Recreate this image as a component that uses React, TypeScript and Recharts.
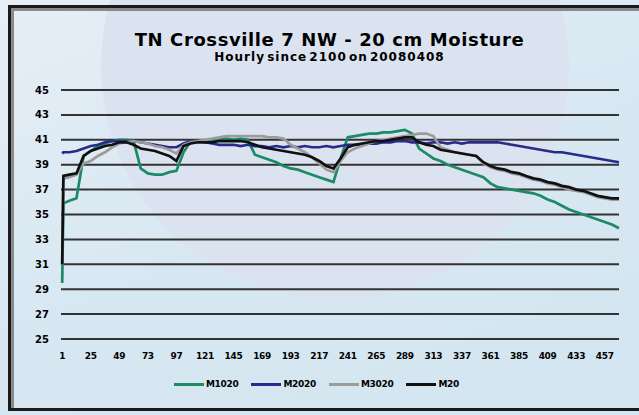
import React from "react";
import {
  LineChart,
  Line,
  XAxis,
  YAxis,
  CartesianGrid,
  Legend,
} from "recharts";

// hours since start (sampled every 6 h, plus hour 2 for the first jump)
const hours = [
  1, 2, 7, 13, 19, 25, 31, 37, 43, 49, 55, 61, 67, 73, 79, 85, 91, 97, 103,
  109, 115, 121, 127, 133, 139, 145, 151, 157, 163, 169, 175, 181, 187, 193,
  199, 205, 211, 217, 223, 229, 235, 241, 247, 253, 259, 265, 271, 277, 283,
  289, 295, 301, 307, 313, 319, 325, 331, 337, 343, 349, 355, 361, 367, 373,
  379, 385, 391, 397, 403, 409, 415, 421, 427, 433, 439, 445, 451, 457, 463,
  469,
];

const m1020 = [
  29.5, 35.9, 36.1, 36.3, 39.7, 40.1, 40.5, 40.7, 40.9, 41.0, 41.0, 40.9,
  38.7, 38.3, 38.2, 38.2, 38.4, 38.5, 40.0, 40.9, 40.9, 40.9, 41.0, 41.1,
  41.1, 41.0, 41.1, 41.0, 39.8, 39.6, 39.4, 39.2, 38.9, 38.7, 38.6, 38.4,
  38.2, 38.0, 37.8, 37.6, 39.5, 41.2, 41.3, 41.4, 41.5, 41.5, 41.6, 41.6,
  41.7, 41.8, 41.5, 40.3, 39.9, 39.5, 39.3, 39.0, 38.8, 38.6, 38.4, 38.2,
  38.0, 37.5, 37.2, 37.1, 37.0, 36.9, 36.8, 36.7, 36.5, 36.2, 36.0, 35.7,
  35.4, 35.2, 35.0, 34.8, 34.6, 34.4, 34.2, 33.9,
];

const m2020 = [
  39.9, 40.0, 40.0, 40.1, 40.3, 40.5, 40.6, 40.8, 40.9, 40.9, 40.9, 40.9,
  40.8, 40.7, 40.6, 40.5, 40.4, 40.4, 40.7, 40.9, 40.9, 40.8, 40.7, 40.6,
  40.6, 40.6, 40.5, 40.6, 40.5, 40.5, 40.4, 40.5, 40.4, 40.5, 40.4, 40.5,
  40.4, 40.4, 40.5, 40.4, 40.5, 40.6, 40.6, 40.6, 40.7, 40.7, 40.8, 40.8,
  40.9, 40.9, 40.8, 40.8, 40.7, 40.8, 40.8, 40.7, 40.8, 40.7, 40.8, 40.8,
  40.8, 40.8, 40.8, 40.7, 40.6, 40.5, 40.4, 40.3, 40.2, 40.1, 40.0, 40.0,
  39.9, 39.8, 39.7, 39.6, 39.5, 39.4, 39.3, 39.2,
];

const m3020 = [
  31.0, 37.9, 38.0, 38.2, 39.1, 39.3, 39.7, 40.0, 40.4, 40.7, 40.8, 40.9,
  40.8, 40.7, 40.5, 40.4, 40.2, 39.9, 40.6, 40.8, 40.9, 41.0, 41.1, 41.2,
  41.3, 41.3, 41.3, 41.3, 41.3, 41.3, 41.2, 41.2, 41.1, 40.6, 40.3, 40.0,
  39.6, 39.1, 38.6, 38.4, 39.3, 40.0, 40.3, 40.5, 40.7, 40.9, 41.0, 41.1,
  41.2, 41.3, 41.4, 41.5, 41.5, 41.3, 40.4, 40.2, 40.0, 39.9, 39.8, 39.7,
  39.1, 38.8, 38.6, 38.5, 38.3, 38.2, 38.0, 37.8, 37.7, 37.5, 37.4, 37.2,
  37.0, 36.9, 36.8, 36.6, 36.4, 36.3, 36.2, 36.2,
];

const m20 = [
  31.0, 38.1, 38.2, 38.3, 39.7, 40.1, 40.3, 40.5, 40.6, 40.8, 40.8, 40.6,
  40.3, 40.2, 40.1, 39.9, 39.7, 39.3, 40.5, 40.7, 40.8, 40.8, 40.8, 40.9,
  40.9, 40.9, 40.9, 40.8, 40.6, 40.4, 40.3, 40.2, 40.1, 40.0, 39.9, 39.8,
  39.6, 39.3, 38.9, 38.7, 39.5, 40.4, 40.6, 40.7, 40.8, 40.9, 40.9, 41.0,
  41.1, 41.2, 41.2, 40.8, 40.6, 40.5, 40.2, 40.1, 40.0, 39.9, 39.8, 39.7,
  39.2, 38.9, 38.7, 38.6, 38.4, 38.3, 38.1, 37.9, 37.8, 37.6, 37.5, 37.3,
  37.2, 37.0, 36.9, 36.7, 36.5, 36.4, 36.3, 36.3,
];

const xTicks = [
  1, 25, 49, 73, 97, 121, 145, 169, 193, 217, 241, 265, 289, 313, 337, 361,
  385, 409, 433, 457,
];
const yTicks = [25, 27, 29, 31, 33, 35, 37, 39, 41, 43, 45];

const series = [
  { key: "M1020", values: m1020, color: "#1b8a66" },
  { key: "M2020", values: m2020, color: "#2a2a8c" },
  { key: "M3020", values: m3020, color: "#9c9c9c" },
  { key: "M20", values: m20, color: "#101010" },
];

const data = hours.map((h, i) => {
  const row: any = { hour: h };
  series.forEach((s) => (row[s.key] = s.values[i]));
  return row;
});

const font = "'DejaVu Sans', 'Liberation Sans', Arial, sans-serif";

// legend drawn in series order (recharts sorts by name otherwise)
function LegendBox() {
  return (
    <div
      style={{
        display: "flex",
        justifyContent: "center",
        gap: 13,
        fontFamily: font,
        fontWeight: 700,
        fontSize: 9,
        letterSpacing: -0.3,
        color: "#000",
        paddingLeft: 14,
      }}
    >
      {series.map((s) => (
        <div key={s.key} style={{ display: "flex", alignItems: "center" }}>
          <span
            style={{
              display: "inline-block",
              width: 30,
              height: 3,
              background: s.color,
              marginRight: 2,
            }}
          />
          <span>{s.key}</span>
        </div>
      ))}
    </div>
  );
}

export default function App() {
  return (
    <div
      style={{
        position: "absolute",
        left: 0,
        top: 0,
        width: 639,
        height: 415,
        overflow: "hidden",
        background:
          "linear-gradient(160deg, #e6eef6 0%, #d8e8f2 50%, #d2e5f0 100%)",
      }}
    >
      <div
        style={{
          position: "absolute",
          left: 101,
          top: -168,
          width: 468,
          height: 468,
          borderRadius: "50%",
          background: "#dce3f0",
        }}
      />
      <div
        style={{
          position: "absolute",
          left: 8,
          top: 5,
          width: 660,
          height: 400,
          border: "3px solid #1a1a1a",
          boxShadow: "inset 3px 3px 0 #8a8a8a",
        }}
      />
      <div
        style={{
          position: "absolute",
          top: 29.5,
          left: 0,
          width: 659,
          height: 20,
          lineHeight: "20px",
          textAlign: "center",
          fontFamily: font,
          fontWeight: 700,
          fontSize: 18,
          letterSpacing: 0.6,
          color: "#000",
        }}
      >
        TN Crossville 7 NW - 20 cm Moisture
      </div>
      <div
        style={{
          position: "absolute",
          top: 51.3,
          left: 0,
          width: 659,
          height: 12,
          lineHeight: "12px",
          textAlign: "center",
          fontFamily: font,
          fontWeight: 700,
          fontSize: 12,
          letterSpacing: 1,
          wordSpacing: -3,
          color: "#000",
        }}
      >
        Hourly since 2100 on 20080408
      </div>
      <div style={{ position: "absolute", left: 0, top: 0 }}>
        <LineChart
          width={639}
          height={415}
          data={data}
          margin={{ top: 90, right: 20, bottom: 36, left: 0 }}
        >
          <CartesianGrid
            vertical={false}
            stroke="#333"
            strokeWidth={2}
            strokeDasharray=""
          />
          <XAxis
            dataKey="hour"
            type="number"
            domain={[0, 469]}
            ticks={xTicks}
            interval={0}
            axisLine={false}
            tickLine={false}
            tickMargin={8}
            height={30}
            tick={{
              fontFamily: font,
              fontWeight: 700,
              fontSize: 9,
              letterSpacing: -0.3,
              fill: "#000",
            }}
          />
          <YAxis
            domain={[25, 45]}
            ticks={yTicks}
            interval={0}
            axisLine={false}
            tickLine={false}
            tickMargin={6}
            width={61}
            tick={{ fontFamily: font, fontWeight: 700, fontSize: 10, fill: "#000" }}
          />
          <Legend
            content={<LegendBox />}
            verticalAlign="bottom"
            wrapperStyle={{ top: 379, bottom: "auto" }}
          />
          {series.map((s) => (
            <Line
              key={s.key}
              dataKey={s.key}
              name={s.key}
              type="linear"
              stroke={s.color}
              strokeWidth={2.7}
              dot={false}
              isAnimationActive={false}
            />
          ))}
        </LineChart>
      </div>
    </div>
  );
}
